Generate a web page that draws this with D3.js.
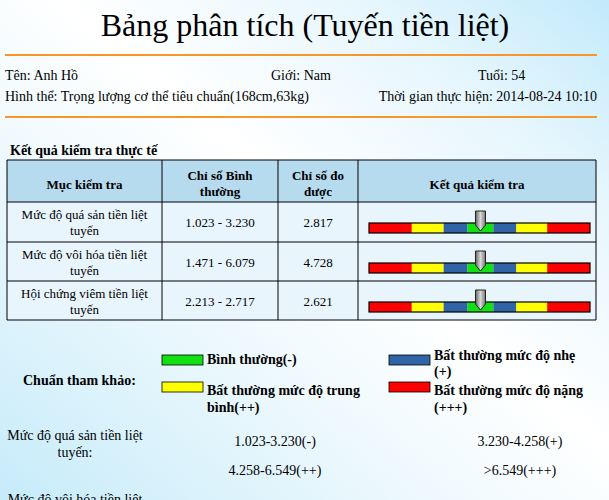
<!DOCTYPE html>
<html><head><meta charset="utf-8">
<script src="https://cdn.jsdelivr.net/npm/d3@7"></script>
<style>body{margin:0;overflow:hidden}svg{display:block;font-family:"Liberation Serif","Times New Roman",serif}</style>
</head><body><svg id="c" width="609" height="500"></svg>
<script>
const items = [["Mức độ quá sản tiền liệt","tuyến"],["Mức độ vôi hóa tiền liệt","tuyến"],["Hội chứng viêm tiền liệt","tuyến"]];
const normalRanges = ["1.023 - 3.230","1.471 - 6.079","2.213 - 2.717"];
const measured = ["2.817","4.728","2.621"];
const levels = [0,0,0]; // severity level read from pointer (0 = normal)
const segLevels = [-3,-2,-1,0,1,2,3];
const segWidths = [43,32,24,26,23,31,43];
const segColors = {"-3":"#ff0000","-2":"#ffff00","-1":"#2f64a6","0":"#11e011","1":"#2f64a6","2":"#ffff00","3":"#ff0000"};
const legend = [["Bình thường(-)"],["Bất thường mức độ nhẹ","(+)"],["Bất thường mức độ trung","bình(++)"],["Bất thường mức độ nặng","(+++)"]];
const legendColors = ["#11e011","#2f64a6","#ffff00","#ff0000"];
const refLabel = ["Mức độ quá sản tiền liệt","tuyến:"];
const refRanges = ["1.023-3.230(-)","3.230-4.258(+)","4.258-6.549(++)",">6.549(+++)"];

const svg = d3.select("#c");
const defs = svg.append("defs");
const bg = defs.append("linearGradient").attr("id","bg").attr("x1","0").attr("y1","1").attr("x2","1").attr("y2","0");
[["0%","#c6ebfa"],["35%","#eef9fd"],["55%","#ffffff"],["80%","#e6f6fd"],["100%","#c2eafb"]].forEach(s=>bg.append("stop").attr("offset",s[0]).attr("stop-color",s[1]));
const pg = defs.append("linearGradient").attr("id","pg");
[["0%","#666"],["50%","#d8d8d8"],["100%","#777"]].forEach(s=>pg.append("stop").attr("offset",s[0]).attr("stop-color",s[1]));
svg.append("rect").attr("width",609).attr("height",500).attr("fill","url(#bg)");

const T=(x,y,t,o={})=>svg.append("text").attr("x",x).attr("y",y).text(t)
  .attr("font-size",o.s||13).attr("font-weight",o.b?"bold":null).attr("text-anchor",o.a||"start").attr("fill","#000");

T(305,36,"Bảng phân tích (Tuyến tiền liệt)",{s:32,a:"middle"});
[55,117].forEach(y=>svg.append("line").attr("x1",5).attr("x2",597).attr("y1",y).attr("y2",y).attr("stroke","#f7962b").attr("stroke-width",2));
T(5,80,"Tên: Anh Hồ",{s:14});T(271,80,"Giới: Nam",{s:14});T(478,80,"Tuổi: 54",{s:14});
T(5,101,"Hình thể: Trọng lượng cơ thể tiêu chuẩn(168cm,63kg)",{s:14});
T(597,101,"Thời gian thực hiện: 2014-08-24 10:10",{a:"end",s:14});
T(10,155,"Kết quả kiểm tra thực tế",{b:1,s:14});

const cols=[7,162,278,358,596], rowsY=[160,202,242,281,320];
svg.append("rect").attr("x",7).attr("y",160).attr("width",589).attr("height",42).attr("fill","#b6daee");
svg.append("rect").attr("x",7).attr("y",202).attr("width",589).attr("height",118).attr("fill","#e9f5fc");
rowsY.forEach(y=>svg.append("line").attr("x1",7).attr("x2",596).attr("y1",y).attr("y2",y).attr("stroke","#000"));
cols.forEach(x=>svg.append("line").attr("x1",x).attr("x2",x).attr("y1",160).attr("y2",320).attr("stroke","#000"));
const cx=i=>(cols[i]+cols[i+1])/2;
T(cx(0),189,"Mục kiểm tra",{b:1,a:"middle"});
T(cx(1),180,"Chỉ số Bình",{b:1,a:"middle"});T(cx(1),196,"thường",{b:1,a:"middle"});
T(cx(2),180,"Chỉ số đo",{b:1,a:"middle"});T(cx(2),196,"được",{b:1,a:"middle"});
T(cx(3),189,"Kết quả kiểm tra",{b:1,a:"middle"});

const cum=[0];segWidths.forEach(w=>cum.push(cum[cum.length-1]+w));
const gx=d3.scaleLinear().domain([0,cum[cum.length-1]]).range([369,590]);
const lvlX=d3.scaleOrdinal().domain(segLevels).range(segLevels.map((l,i)=>gx((cum[i]+cum[i+1])/2)));
items.forEach((it,i)=>{
  const y0=rowsY[i+1];
  T(cx(0),y0+17,it[0],{a:"middle"});T(cx(0),y0+33,it[1],{a:"middle"});
  T(cx(1),y0+25,normalRanges[i],{a:"middle"});
  T(cx(2),y0+25,measured[i],{a:"middle"});
  const g=svg.append("g");
  segLevels.forEach((l,j)=>g.append("rect").attr("x",gx(cum[j])).attr("y",y0+21).attr("width",gx(cum[j+1])-gx(cum[j])).attr("height",10).attr("fill",segColors[l]));
  g.append("rect").attr("x",369).attr("y",y0+21).attr("width",221).attr("height",10).attr("fill","none").attr("stroke","#000").attr("stroke-width",1.2);
  const px=lvlX(levels[i]);
  g.append("path").attr("d",`M${px-5},${y0+9}H${px+5}V${y0+23}L${px},${y0+29}L${px-5},${y0+23}Z`).attr("fill","url(#pg)").attr("stroke","#222").attr("stroke-width",1);
});

T(23,385,"Chuẩn tham khảo:",{b:1,s:14});
const lpos=[[162,355,360,0],[389,355,356,372],[162,382,391,408],[389,382,391,408]];
legend.forEach((l,i)=>{
  const [x,y,b1,b2]=lpos[i];
  svg.append("rect").attr("x",x).attr("y",y).attr("width",41).attr("height",10).attr("fill",legendColors[i]).attr("stroke","#000").attr("stroke-width",0.8);
  T(x+45,b1+4,l[0],{b:1,s:14});
  if(l.length>1) T(x+45,b2+4,l[1],{b:1,s:14});
});
T(75,440,refLabel[0],{a:"middle",s:14});T(75,457,refLabel[1],{a:"middle",s:14});
const rp=[[275,446],[520,446],[275,475],[520,475]];
refRanges.forEach((r,i)=>T(rp[i][0],rp[i][1],r,{a:"middle",s:14}));
T(75,504,"Mức độ vôi hóa tiền liệt",{a:"middle",s:14});
</script></body></html>
